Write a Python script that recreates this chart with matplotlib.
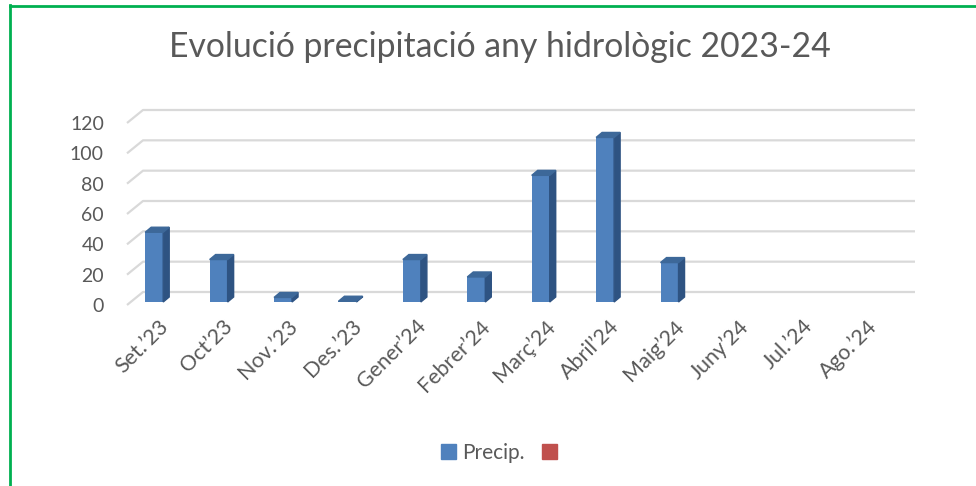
import numpy as np
import matplotlib
matplotlib.use("Agg")
import matplotlib.pyplot as plt
from matplotlib.patches import Polygon, Patch
from matplotlib.lines import Line2D

plt.rcParams['font.family'] = ['Lato', 'DejaVu Sans']

# --- data ---
months = ["Set.’23", "Oct’23", "Nov.’23", "Des.’23", "Gener’24", "Febrer’24",
          "Març’24", "Abril’24", "Maig’24", "Juny’24", "Jul.’24", "Ago.’24"]
precip = [46, 28, 3, 0.5, 28, 16.5, 83.5, 108.5, 26, None, None, None]
y_ticks = [0, 20, 40, 60, 80, 100, 120]
series_names = ["Precip.", ""]

TEXT = "#595959"
GRID = "#D9D9D9"
FRONT = "#4F81BD"
SIDE = "#2E5382"
TOP = "#3D6899"
RED = "#C0504D"
GREEN = "#00B050"

W, H, DPI = 976, 486, 100
fig = plt.figure(figsize=(W / DPI, H / DPI), dpi=DPI)

# axes = front plane of the pseudo 3D chart (pixel layout)
left, right, y0, y120 = 122, 895, 305, 123
ax = fig.add_axes([left / W, 1 - y0 / H, (right - left) / W, (y0 - y120) / H])
ax.set_xlim(-0.5, 11.5)
ax.set_ylim(0, 120)
for s in ax.spines.values():
    s.set_visible(False)

px_x = (right - left) / 12.0      # pixels per category
px_y = (y0 - y120) / 120.0        # pixels per mm


def ux(p):
    return p / px_x


def uy(p):
    return p / px_y


# gridlines: short diagonal on the side wall + line along the back wall
back_dx, back_dy = ux(21), uy(13)
x_front = -0.5 + ux(5)
x_back_end = -0.5 + ux(915 - left)
for v in y_ticks:
    ax.plot([x_front, -0.5 + back_dx, x_back_end], [v, v + back_dy, v + back_dy],
            color=GRID, lw=1.6, clip_on=False, zorder=1, solid_capstyle='butt')

# bars with a fake depth
bw = ux(18)
dxb, dyb = ux(6), uy(5)
base = uy(3)
xs = np.arange(len(months))
vals = [np.nan if p is None else p for p in precip]
ax.bar(xs, vals, width=bw, bottom=base, color=FRONT, zorder=3)
for x, v in zip(xs, vals):
    if np.isnan(v):
        continue
    x1, x2 = x - bw / 2, x + bw / 2
    yt = base + v
    ax.add_patch(Polygon([(x2, base), (x2 + dxb, base + dyb), (x2 + dxb, yt + dyb), (x2, yt)],
                         closed=True, color=SIDE, zorder=3, clip_on=False))
    ax.add_patch(Polygon([(x1, yt), (x1 + dxb, yt + dyb), (x2 + dxb, yt + dyb), (x2, yt)],
                         closed=True, color=TOP, zorder=3, clip_on=False))

# axis labels
ax.set_yticks(y_ticks)
ax.set_yticklabels([str(v) for v in y_ticks], fontsize=14, color=TEXT)
ax.tick_params(axis='y', length=0, pad=13)
ax.set_xticks([])
for x, m in zip(xs, months):
    ax.text(x + ux(4), -uy(11), m, rotation=45, rotation_mode='anchor',
            ha='right', va='top', fontsize=15.5, color=TEXT, clip_on=False)

fig.text(0.512, 1 - 47 / H, "Evolució precipitació any hidrològic 2023-24",
         ha='center', va='center', fontsize=24.3, color=TEXT)

handles = [Patch(color=FRONT), Patch(color=RED)]
fig.legend(handles, series_names, loc='center', bbox_to_anchor=(502 / W, 1 - 453 / H),
           ncol=2, frameon=False, handlelength=0.75, handleheight=0.75,
           handletextpad=0.3, columnspacing=0.8, fontsize=15, labelcolor=TEXT)

# green frame (left and top edges visible)
fig.add_artist(Line2D([10 / W, 10 / W], [0, 1 - 5 / H], color=GREEN, lw=2, transform=fig.transFigure))
fig.add_artist(Line2D([10 / W, 1], [1 - 6 / H, 1 - 6 / H], color=GREEN, lw=2, transform=fig.transFigure))

fig.savefig("out.png", dpi=DPI)
